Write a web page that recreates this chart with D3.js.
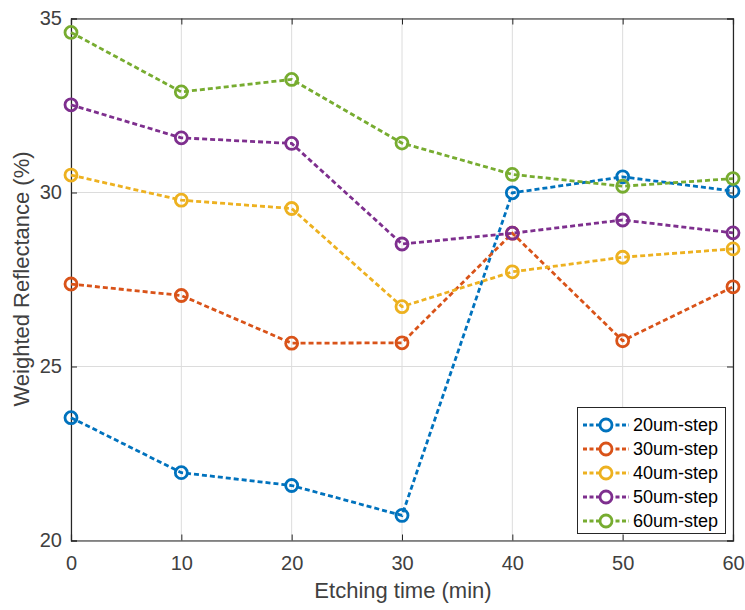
<!DOCTYPE html>
<html><head><meta charset="utf-8">
<script src="https://cdn.jsdelivr.net/npm/d3@7"></script>
<style>body{margin:0;background:#fff}svg{display:block}text{font-family:"Liberation Sans",Arial,sans-serif}</style>
</head><body><svg id="c" width="745" height="610"></svg>
<script>
const times = [0, 10, 20, 30, 40, 50, 60];
const seriesNames = ["20um-step", "30um-step", "40um-step", "50um-step", "60um-step"];
const s20 = [23.53, 21.95, 21.58, 20.72, 29.99, 30.45, 30.04];
const s30 = [27.37, 27.04, 25.67, 25.68, 28.83, 25.74, 27.29];
const s40 = [30.50, 29.78, 29.54, 26.72, 27.72, 28.14, 28.38];
const s50 = [32.52, 31.57, 31.41, 28.52, 28.83, 29.21, 28.84];
const s60 = [34.60, 32.89, 33.25, 31.42, 30.52, 30.18, 30.40];
const colors = ["#0072BD", "#D95319", "#EDB120", "#7E2F8E", "#77AC30"];
const xTicks = [0, 10, 20, 30, 40, 50, 60];
const yTicks = [20, 25, 30, 35];
const xLabel = "Etching time (min)";
const yLabel = "Weighted Reflectance (%)";

const allSeries = [s20, s30, s40, s50, s60];
const svg = d3.select("#c");
const L = 71, R = 733, T = 18.5, B = 540.5;
const x = d3.scaleLinear().domain([0, 60]).range([L, R]);
const y = d3.scaleLinear().domain([20, 35]).range([B, T]);
const txt = "#262626";

// grid
const g = svg.append("g");
g.selectAll(".gx").data(xTicks).join("line")
  .attr("x1", d => x(d)).attr("x2", d => x(d)).attr("y1", T).attr("y2", B)
  .attr("stroke", "#dcdcdc").attr("stroke-width", 1);
g.selectAll(".gy").data(yTicks).join("line")
  .attr("x1", L).attr("x2", R).attr("y1", d => y(d)).attr("y2", d => y(d))
  .attr("stroke", "#dcdcdc").attr("stroke-width", 1);

// axes
const xa = svg.append("g").attr("transform", `translate(0,${B})`)
  .call(d3.axisBottom(x).tickValues(xTicks).tickSize(-6).tickPadding(15));
const xt = svg.append("g").attr("transform", `translate(0,${T})`)
  .call(d3.axisTop(x).tickValues(xTicks).tickSize(-6).tickFormat(""));
const ya = svg.append("g").attr("transform", `translate(${L},0)`)
  .call(d3.axisLeft(y).tickValues(yTicks).tickSize(-6).tickPadding(9));
const yr = svg.append("g").attr("transform", `translate(${R},0)`)
  .call(d3.axisRight(y).tickValues(yTicks).tickSize(-6).tickFormat(""));
[xa, xt, ya, yr].forEach(a => {
  a.selectAll("path").attr("stroke", txt).attr("stroke-width", 1.2);
  a.selectAll("line").attr("stroke", txt);
  a.selectAll("text").attr("fill", "#404040").style("font-size", "20px").style("font-family", '"Liberation Sans",Arial,sans-serif');
});

svg.append("text").attr("x", (L + R) / 2 + 1).attr("y", 598).attr("text-anchor", "middle")
  .attr("fill", "#404040").style("font-size", "22px").text(xLabel);
svg.append("text").attr("transform", `translate(29,279) rotate(-90)`).attr("text-anchor", "middle")
  .attr("fill", "#404040").style("font-size", "22px").text(yLabel);

// lines
const line = d3.line().x((d, i) => x(times[i])).y(d => y(d));
allSeries.forEach((s, k) => {
  svg.append("path").datum(s).attr("d", line).attr("fill", "none")
    .attr("stroke", colors[k]).attr("stroke-width", 2.8).attr("stroke-dasharray", "5,3");
  svg.selectAll(null).data(s).join("circle")
    .attr("cx", (d, i) => x(times[i])).attr("cy", d => y(d)).attr("r", 6)
    .attr("fill", "none").attr("stroke", colors[k]).attr("stroke-width", 2.8);
});

// legend
const lg = svg.append("g");
lg.append("rect").attr("x", 577.5).attr("y", 407.5).attr("width", 148).attr("height", 126)
  .attr("fill", "#fff").attr("stroke", "#262626").attr("stroke-width", 1);
seriesNames.forEach((n, k) => {
  const yy = 425 + k * 24;
  lg.append("line").attr("x1", 583).attr("x2", 629).attr("y1", yy).attr("y2", yy)
    .attr("stroke", colors[k]).attr("stroke-width", 2.8).attr("stroke-dasharray", "4,2.5");
  lg.append("circle").attr("cx", 606).attr("cy", yy).attr("r", 6).attr("fill", "#fff")
    .attr("stroke", colors[k]).attr("stroke-width", 2.8);
  lg.append("text").attr("x", 633).attr("y", yy + 6).attr("fill", "#000")
    .style("font-size", "18px").text(n);
});
</script></body></html>
